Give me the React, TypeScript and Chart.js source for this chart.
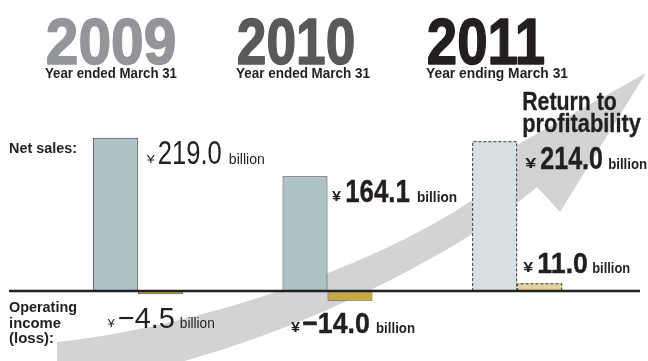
import { useEffect, useRef } from "react";
import { Chart, registerables } from "chart.js";

Chart.register(...registerables);

// ---------- data ----------
const years = ["2009", "2010", "2011"];
const yearNotes = ["Year ended March 31", "Year ended March 31", "Year ending March 31"];
const netSales = [219.0, 164.1, 214.0];
const operatingIncome = [-4.5, -14.0, 11.0];
const isForecast = [false, false, true];
const unitLabel = "billion";
const netSalesTitle = "Net sales:";
const operatingTitle = ["Operating", "income", "(loss):"];
const highlightTitle = ["Return to", "profitability"];

// ---------- styles ----------
const FONT = "'Liberation Sans Narrow', 'Liberation Sans', Arial, sans-serif";
const INK = "#231f20";
const yearColors = ["#939598", "#58595b", "#231f20"];
const netColor = "#adc2c5";
const netForecastColor = "#d6e0e2";
const opColor = "#c9a83f";
const opForecastColor = "#e3d39c";
const bandColor = "#d1d3d4";

const headingLayout = [
  { x: 45, w: 132, nw: 132 },
  { x: 236, w: 120, nw: 134 },
  { x: 426, w: 120, nw: 142 },
];

const netLabelLayout = [
  { dx: 9, dy: 26, bold: false, size: 33, yenSize: 11, yen: 8, num: 64, unit: 36, gap1: 3, gap2: 7 },
  { dx: 4.5, dy: 26, bold: true, size: 31, yenSize: 14, yen: 9, num: 65, unit: 40, gap1: 4, gap2: 7 },
  { dx: 8, dy: 28, bold: true, size: 31, yenSize: 15, yen: 11, num: 63, unit: 39, gap1: 4, gap2: 5 },
];
const opLabelLayout = [
  { dx: -30, base: 37, bold: false, size: 30, yenSize: 11, yen: 7, num: 57, unit: 35, gap1: 3, gap2: 5 },
  { dx: -36.5, base: 42, bold: true, size: 29, yenSize: 14, yen: 9, num: 68, unit: 39, gap1: 2, gap2: 6 },
  { dx: 6, base: -18, bold: true, size: 29, yenSize: 14, yen: 10, num: 51, unit: 38, gap1: 4, gap2: 4 },
];

function fitText(
  ctx: CanvasRenderingContext2D,
  text: string,
  x: number,
  baseline: number,
  font: string,
  color: string,
  width: number,
  stroke = 0
) {
  ctx.save();
  ctx.font = font;
  ctx.textAlign = "left";
  ctx.textBaseline = "alphabetic";
  const w = ctx.measureText(text).width || 1;
  const sx = (width - stroke) / w;
  ctx.translate(x + stroke / 2, baseline);
  ctx.scale(sx, 1);
  ctx.fillStyle = color;
  ctx.fillText(text, 0, 0);
  if (stroke > 0) {
    ctx.strokeStyle = color;
    ctx.lineWidth = stroke;
    ctx.lineJoin = "round";
    ctx.strokeText(text, 0, 0);
  }
  ctx.restore();
}

function fmt(v: number) {
  const s = Math.abs(v).toFixed(1);
  return v < 0 ? "\u2212" + s : s;
}

function drawValue(ctx: CanvasRenderingContext2D, value: number, x: number, baseline: number, L: any) {
  const wt = L.bold ? "bold " : "";
  fitText(ctx, "\u00a5", x, baseline - 1, `${wt}${L.yenSize}px ${FONT}`, INK, L.yen);
  const nx = x + L.yen + L.gap1;
  fitText(ctx, fmt(value), nx, baseline, `${wt}${L.size}px ${FONT}`, INK, L.num, L.bold ? 0.4 : 0);
  const ux = nx + L.num + L.gap2;
  fitText(ctx, unitLabel, ux, baseline, `${wt}15px ${FONT}`, INK, L.unit);
}

const decorPlugin = {
  id: "decor",
  beforeDatasetsDraw(chart: any) {
    const ctx: CanvasRenderingContext2D = chart.ctx;
    ctx.save();
    ctx.fillStyle = bandColor;
    ctx.beginPath();
    ctx.moveTo(57, 342);
    ctx.bezierCurveTo(217, 325, 420, 250, 505, 175);
    ctx.lineTo(515, 146);
    ctx.lineTo(646, 73);
    ctx.lineTo(560, 212);
    ctx.lineTo(537, 187);
    ctx.bezierCurveTo(440, 270, 220, 372, 57, 385);
    ctx.closePath();
    ctx.fill();
    ctx.restore();
  },
  afterDatasetsDraw(chart: any) {
    const ctx: CanvasRenderingContext2D = chart.ctx;
    chart.data.datasets.forEach((_ds: any, di: number) => {
      const meta = chart.getDatasetMeta(di);
      meta.data.forEach((el: any, i: number) => {
        if (!isForecast[i]) return;
        const l = el.x - el.width / 2;
        const r = el.x + el.width / 2;
        const top = Math.min(el.y, el.base);
        const bot = Math.max(el.y, el.base);
        ctx.save();
        ctx.strokeStyle = "#3b3b3b";
        ctx.lineWidth = 1;
        ctx.setLineDash([3, 2]);
        ctx.beginPath();
        ctx.moveTo(l + 0.5, bot);
        ctx.lineTo(l + 0.5, top + 0.5);
        ctx.lineTo(r - 0.5, top + 0.5);
        ctx.lineTo(r - 0.5, bot);
        ctx.stroke();
        ctx.restore();
      });
    });
    const y0 = chart.scales.y.getPixelForValue(0);
    ctx.save();
    ctx.strokeStyle = INK;
    ctx.lineWidth = 2.5;
    ctx.beginPath();
    ctx.moveTo(9, y0);
    ctx.lineTo(640, y0);
    ctx.stroke();
    ctx.restore();
  },
  afterDraw(chart: any) {
    const ctx: CanvasRenderingContext2D = chart.ctx;
    years.forEach((yr, i) => {
      const H = headingLayout[i];
      fitText(ctx, yr, H.x, 64, `bold 64px ${FONT}`, yearColors[i], H.w, 1.5);
      fitText(ctx, yearNotes[i], H.x, 78, `bold 14px ${FONT}`, INK, H.nw);
    });
    fitText(ctx, netSalesTitle, 9, 153, `bold 15px ${FONT}`, INK, 68);
    fitText(ctx, operatingTitle[0], 9, 312, `bold 15px ${FONT}`, INK, 68);
    fitText(ctx, operatingTitle[1], 9, 328, `bold 15px ${FONT}`, INK, 52);
    fitText(ctx, operatingTitle[2], 9, 343, `bold 15px ${FONT}`, INK, 45);
    fitText(ctx, highlightTitle[0], 522, 110, `bold 25px ${FONT}`, INK, 95, 0.3);
    fitText(ctx, highlightTitle[1], 522, 132, `bold 25px ${FONT}`, INK, 119, 0.3);
    const netMeta = chart.getDatasetMeta(0);
    const opMeta = chart.getDatasetMeta(1);
    netMeta.data.forEach((el: any, i: number) => {
      const L = netLabelLayout[i];
      drawValue(ctx, netSales[i], el.x + el.width / 2 + L.dx, el.y + L.dy, L);
    });
    opMeta.data.forEach((el: any, i: number) => {
      const L = opLabelLayout[i];
      drawValue(ctx, operatingIncome[i], el.x - el.width / 2 + L.dx, el.base + L.base, L);
    });
  },
};

export default function App() {
  const ref = useRef<HTMLCanvasElement | null>(null);
  useEffect(() => {
    if (!ref.current) return;
    const chart = new Chart(ref.current, {
      type: "bar",
      data: {
        labels: years,
        datasets: [
          {
            label: "Net sales",
            data: netSales,
            backgroundColor: isForecast.map((f) => (f ? netForecastColor : netColor)),
            borderColor: isForecast.map((f) => (f ? "rgba(0,0,0,0)" : "#3b3b3b")),
            borderWidth: isForecast.map((f) => (f ? 0 : 1)),
            borderSkipped: false,
            categoryPercentage: 0.4745,
            barPercentage: 1,
          },
          {
            label: "Operating income (loss)",
            data: operatingIncome,
            backgroundColor: isForecast.map((f) => (f ? opForecastColor : opColor)),
            borderColor: isForecast.map((f) => (f ? "rgba(0,0,0,0)" : "#4a4a3a")),
            borderWidth: isForecast.map((f) => (f ? 0 : 1)),
            borderSkipped: false,
            categoryPercentage: 0.4745,
            barPercentage: 1,
          },
        ],
      },
      options: {
        animation: false,
        responsive: true,
        maintainAspectRatio: false,
        layout: { padding: { left: 43, right: 36, top: 81, bottom: 42 } },
        plugins: {
          legend: { display: false },
          tooltip: { enabled: false },
          title: { display: false },
        },
        scales: {
          x: { display: false, grid: { display: false } },
          y: { display: false, min: -40, max: 300, grid: { display: false } },
        },
      },
      plugins: [decorPlugin],
    });
    return () => chart.destroy();
  }, []);
  return (
    <div style={{ position: "fixed", left: 0, top: 0, width: 648, height: 361, background: "#ffffff" }}>
      <canvas ref={ref} />
    </div>
  );
}
